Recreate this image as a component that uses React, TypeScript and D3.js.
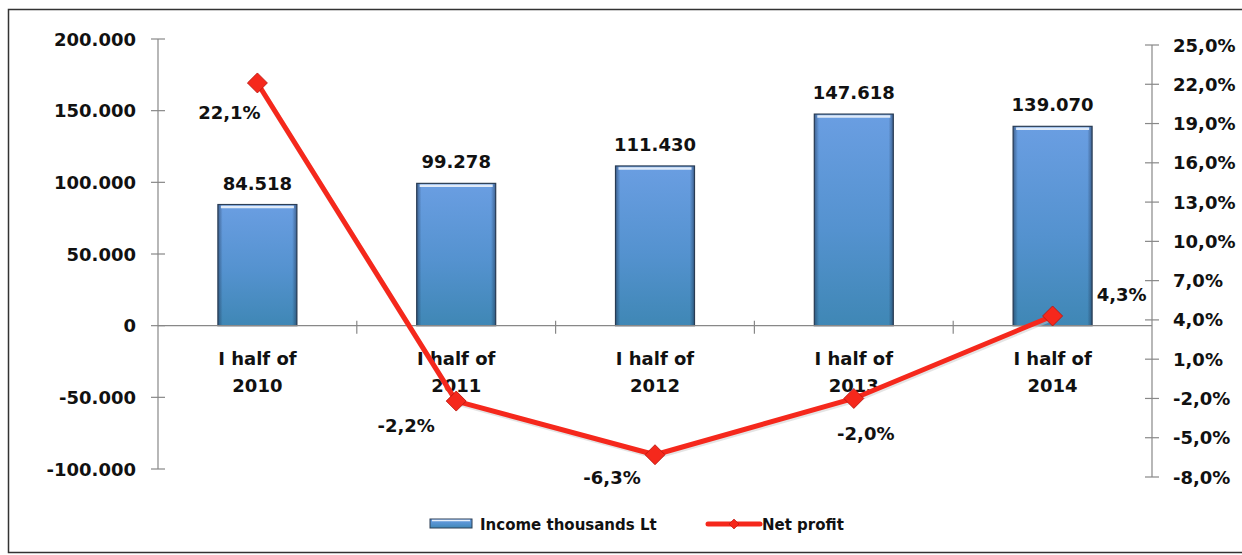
import React, { useEffect, useRef } from 'react';
import * as d3 from 'd3';

const periods = ['2010', '2011', '2012', '2013', '2014'];
const incomeValues = [84518, 99278, 111430, 147618, 139070];
const profitValues = [22.1, -2.2, -6.3, -2.0, 4.3];
const leftTicks = [-100000, -50000, 0, 50000, 100000, 150000, 200000];
const rightTicks = [-8, -5, -2, 1, 4, 7, 10, 13, 16, 19, 22, 25];

// where each % label sits relative to its point
const pctLabelOffsets = [[-28, 30], [-50, 24], [-43, 23], [12, 35], [69, -21]];

const W = 1242, H = 555;
const FONT = "'DejaVu Sans', sans-serif";

const fmtThousands = (v: number) => d3.format(',')(v).replace(/,/g, '.').replace('\u2212', '-');
const fmtPct = (v: number) => v.toFixed(1).replace('.', ',') + '%';

export default function App() {
  const ref = useRef<SVGSVGElement>(null);

  useEffect(() => {
    const svg = d3.select(ref.current);
    svg.selectAll('*').remove();

    const x = d3.scaleBand<string>().domain(periods).range([158, 1152]);
    const yL = d3.scaleLinear().domain([-100000, 200000]).range([469, 39]);
    const yR = d3.scaleLinear().domain([-8, 25]).range([477, 45]);

    const defs = svg.append('defs');
    const g1 = defs.append('linearGradient').attr('id', 'barFill')
      .attr('x1', 0).attr('y1', 0).attr('x2', 0).attr('y2', 1);
    g1.append('stop').attr('offset', '0%').attr('stop-color', '#6a9ee2');
    g1.append('stop').attr('offset', '55%').attr('stop-color', '#5492cf');
    g1.append('stop').attr('offset', '100%').attr('stop-color', '#3f87b5');
    const g2 = defs.append('linearGradient').attr('id', 'barSide')
      .attr('x1', 0).attr('y1', 0).attr('x2', 1).attr('y2', 0);
    g2.append('stop').attr('offset', '0%').attr('stop-color', '#1f3350').attr('stop-opacity', 0.55);
    g2.append('stop').attr('offset', '6%').attr('stop-color', '#1f3350').attr('stop-opacity', 0);
    g2.append('stop').attr('offset', '94%').attr('stop-color', '#1f3350').attr('stop-opacity', 0);
    g2.append('stop').attr('offset', '100%').attr('stop-color', '#1f3350').attr('stop-opacity', 0.55);

    // frame
    svg.append('rect').attr('x', 8.5).attr('y', 9.5).attr('width', 1240).attr('height', 543)
      .attr('fill', 'white').attr('stroke', '#333').attr('stroke-width', 1.5);

    // bars
    const bw = 79;
    const bars = svg.append('g');
    incomeValues.forEach((v, i) => {
      const cx = x(periods[i])! + x.bandwidth() / 2;
      const top = yL(v), bot = yL(0);
      bars.append('rect').attr('x', cx - bw / 2).attr('y', top).attr('width', bw).attr('height', bot - top)
        .attr('fill', 'url(#barFill)').attr('stroke', '#2d3f55').attr('stroke-width', 1.2);
      bars.append('rect').attr('x', cx - bw / 2).attr('y', top).attr('width', bw).attr('height', bot - top)
        .attr('fill', 'url(#barSide)');
      bars.append('line').attr('x1', cx - bw / 2 + 3).attr('x2', cx + bw / 2 - 3)
        .attr('y1', top + 2.5).attr('y2', top + 2.5).attr('stroke', '#dfeaf8').attr('stroke-width', 2.5);
      bars.append('text').attr('x', cx).attr('y', top - 15).attr('text-anchor', 'middle')
        .attr('font-family', FONT).attr('font-weight', 'bold').attr('font-size', 18).attr('fill', '#111')
        .text(fmtThousands(v));
    });

    // left axis
    const axisCol = '#888';
    svg.append('line').attr('x1', 158).attr('x2', 158).attr('y1', yL(200000)).attr('y2', yL(-100000))
      .attr('stroke', axisCol).attr('stroke-width', 1.2);
    leftTicks.forEach(t => {
      svg.append('line').attr('x1', 151).attr('x2', 165).attr('y1', yL(t)).attr('y2', yL(t))
        .attr('stroke', axisCol).attr('stroke-width', 1.2);
      svg.append('text').attr('x', 136).attr('y', yL(t) + 6.5).attr('text-anchor', 'end')
        .attr('font-family', FONT).attr('font-weight', 'bold').attr('font-size', 18).attr('fill', '#111')
        .text(fmtThousands(t));
    });

    // right axis
    svg.append('line').attr('x1', 1152).attr('x2', 1152).attr('y1', yR(25)).attr('y2', yR(-8))
      .attr('stroke', axisCol).attr('stroke-width', 1.2);
    rightTicks.forEach(t => {
      svg.append('line').attr('x1', 1145).attr('x2', 1159).attr('y1', yR(t)).attr('y2', yR(t))
        .attr('stroke', axisCol).attr('stroke-width', 1.2);
      svg.append('text').attr('x', 1173).attr('y', yR(t) + 6.5).attr('text-anchor', 'start')
        .attr('font-family', FONT).attr('font-weight', 'bold').attr('font-size', 18).attr('fill', '#111')
        .text(fmtPct(t));
    });

    // category axis at zero
    svg.append('line').attr('x1', 158).attr('x2', 1152).attr('y1', yL(0)).attr('y2', yL(0))
      .attr('stroke', axisCol).attr('stroke-width', 1.2);
    periods.forEach((p, i) => {
      const bx = x(p)!;
      if (i > 0) {
        svg.append('line').attr('x1', bx).attr('x2', bx).attr('y1', yL(0) - 5).attr('y2', yL(0) + 8)
          .attr('stroke', axisCol).attr('stroke-width', 1.2);
      }
      const cx = bx + x.bandwidth() / 2;
      const t = svg.append('text').attr('text-anchor', 'middle')
        .attr('font-family', FONT).attr('font-weight', 'bold').attr('font-size', 18).attr('fill', '#111');
      t.append('tspan').attr('x', cx).attr('y', yL(0) + 39).text('I half of');
      t.append('tspan').attr('x', cx).attr('y', yL(0) + 66).text(p);
    });

    // profit line
    const red = '#f5281c';
    const pts: [number, number][] = profitValues.map((v, i) => [x(periods[i])! + x.bandwidth() / 2, yR(v)]);
    svg.append('path').attr('d', d3.line()(pts)!).attr('fill', 'none')
      .attr('stroke', '#c9c9c9').attr('stroke-width', 5).attr('transform', 'translate(1,2)').attr('opacity', 0.5);
    svg.append('path').attr('d', d3.line()(pts)!).attr('fill', 'none')
      .attr('stroke', red).attr('stroke-width', 5).attr('stroke-linejoin', 'round');
    const diamond = d3.symbol().type(d3.symbolSquare).size(200);
    pts.forEach(([px, py], i) => {
      svg.append('path').attr('d', diamond()!).attr('transform', `translate(${px},${py}) rotate(45)`)
        .attr('fill', red).attr('stroke', '#b8150e').attr('stroke-width', 0.8);
      const [dx, dy] = pctLabelOffsets[i];
      svg.append('text').attr('x', px + dx).attr('y', py + dy + 6.5).attr('text-anchor', 'middle')
        .attr('font-family', FONT).attr('font-weight', 'bold').attr('font-size', 18).attr('fill', '#111')
        .text(fmtPct(profitValues[i]));
    });

    // legend
    const lg = svg.append('g');
    lg.append('rect').attr('x', 430).attr('y', 519).attr('width', 42).attr('height', 9)
      .attr('fill', 'url(#barFill)').attr('stroke', '#2d3f55').attr('stroke-width', 1);
    lg.append('line').attr('x1', 432).attr('x2', 470).attr('y1', 520.5).attr('y2', 520.5)
      .attr('stroke', '#e6effa').attr('stroke-width', 1.5);
    lg.append('text').attr('x', 480).attr('y', 530).attr('font-family', FONT).attr('font-weight', 'bold')
      .attr('font-size', 15).attr('fill', '#111').text('Income thousands Lt');
    lg.append('line').attr('x1', 708).attr('x2', 760).attr('y1', 524).attr('y2', 524)
      .attr('stroke', red).attr('stroke-width', 5).attr('stroke-linecap', 'round');
    lg.append('path').attr('d', d3.symbol().type(d3.symbolSquare).size(50)()!)
      .attr('transform', 'translate(734,524) rotate(45)').attr('fill', red).attr('stroke', '#b8150e').attr('stroke-width', 0.6);
    lg.append('text').attr('x', 762).attr('y', 530).attr('font-family', FONT).attr('font-weight', 'bold')
      .attr('font-size', 15).attr('fill', '#111').text('Net profit');
  }, []);

  return (
    <svg ref={ref} width={W} height={H} style={{ position: 'absolute', left: 0, top: 0, background: 'white' }} />
  );
}
